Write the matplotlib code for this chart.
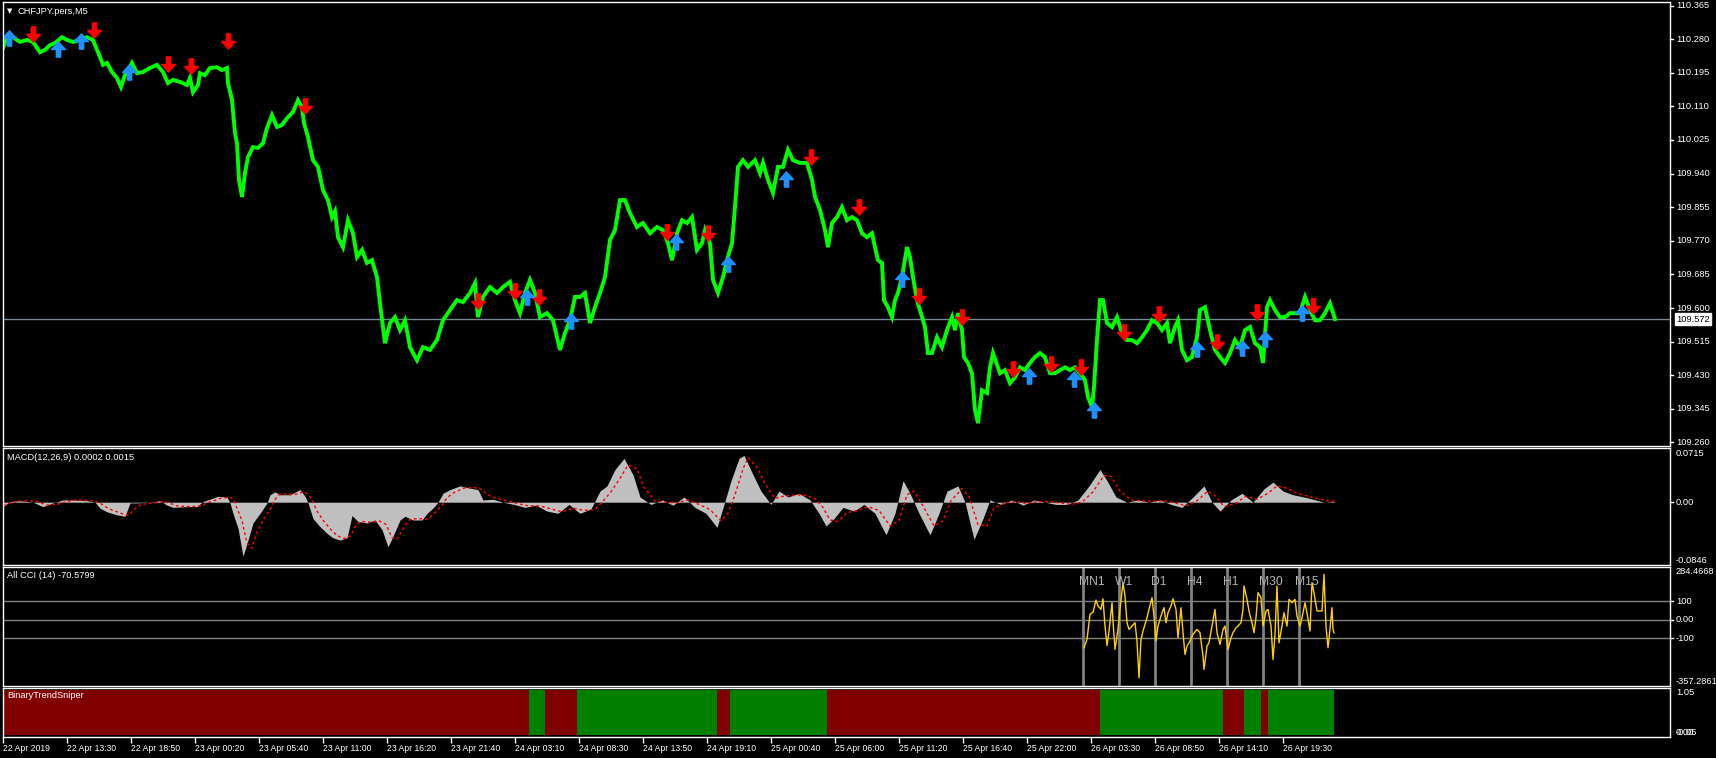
import matplotlib
matplotlib.use('Agg')
import matplotlib.pyplot as plt
import numpy as np

plt.rcParams['font.family'] = ['Liberation Sans', 'DejaVu Sans']

# ---------------- data ----------------
symbol_title = "CHFJPY.pers,M5"

price_bars = [0, 5, 10, 17, 24, 30, 37, 42, 47, 52, 59, 64, 70, 77, 84, 90, 94, 97, 100, 104,
              109, 114, 118, 122, 129, 134, 140, 147, 154, 160, 165, 170, 177, 184, 187, 190, 195, 197, 202, 207,
              214, 219, 224, 225, 229, 232, 234, 236, 239, 242, 245, 250, 255, 260, 264, 269, 274, 279, 284, 290,
              295, 299, 301, 305, 310, 315, 320, 325, 329, 332, 335, 340, 345, 350, 354, 359, 364, 369, 374, 377,
              382, 387, 392, 397, 402, 407, 414, 420, 427, 434, 440, 447, 454, 460, 467, 472, 475, 480, 487, 494,
              500, 507, 512, 517, 522, 527, 532, 537, 544, 550, 557, 562, 567, 572, 577, 582, 587, 592, 597, 602,
              607, 612, 617, 622, 627, 634, 640, 647, 654, 660, 665, 669, 674, 679, 684, 689, 694, 699, 702, 707,
              710, 715, 720, 724, 729, 732, 735, 740, 745, 752, 757, 760, 765, 770, 775, 780, 785, 790, 797, 804,
              809, 812, 817, 822, 825, 829, 834, 839, 844, 849, 854, 859, 864, 869, 872, 875, 879, 881, 885, 889,
              892, 895, 899, 904, 907, 910, 914, 919, 922, 925, 929, 934, 939, 944, 949, 952, 955, 959, 961, 965,
              969, 972, 975, 979, 984, 987, 990, 995, 997, 1002, 1007, 1012, 1017, 1022, 1027, 1032, 1037, 1042, 1047, 1052,
              1057, 1062, 1067, 1072, 1077, 1082, 1085, 1089, 1091, 1094, 1097, 1100, 1104, 1109, 1114, 1119, 1124, 1129, 1134, 1139,
              1144, 1149, 1154, 1159, 1164, 1167, 1172, 1175, 1179, 1184, 1189, 1194, 1197, 1202, 1207, 1212, 1217, 1222, 1227, 1232,
              1237, 1242, 1247, 1252, 1257, 1260, 1264, 1267, 1272, 1277, 1282, 1287, 1292, 1297, 1302, 1307, 1312, 1317, 1322, 1327, 1332]
price_vals = [110.258, 110.290, 110.285, 110.273, 110.278, 110.273, 110.247, 110.253, 110.265, 110.270,
              110.285, 110.278, 110.273, 110.278, 110.285, 110.278, 110.253, 110.235, 110.215, 110.220,
              110.197, 110.182, 110.159, 110.189, 110.220, 110.194, 110.197, 110.207, 110.215, 110.197,
              110.169, 110.177, 110.172, 110.164, 110.182, 110.146, 110.164, 110.194, 110.189, 110.207,
              110.209, 110.202, 110.207, 110.169, 110.126, 110.043, 110.017, 109.924, 109.881, 109.941,
              109.982, 110.007, 110.005, 110.017, 110.055, 110.088, 110.058, 110.063, 110.080, 110.096,
              110.126, 110.108, 110.068, 110.032, 109.974, 109.957, 109.898, 109.873, 109.830, 109.845,
              109.779, 109.754, 109.822, 109.789, 109.729, 109.747, 109.714, 109.721, 109.678, 109.612,
              109.511, 109.562, 109.577, 109.544, 109.569, 109.501, 109.468, 109.501, 109.494, 109.519,
              109.569, 109.595, 109.620, 109.615, 109.638, 109.663, 109.577, 109.628, 109.653, 109.638,
              109.653, 109.666, 109.620, 109.587, 109.638, 109.671, 109.638, 109.577, 109.587, 109.569,
              109.494, 109.537, 109.569, 109.628, 109.628, 109.638, 109.562, 109.602, 109.638, 109.678,
              109.772, 109.797, 109.873, 109.873, 109.840, 109.805, 109.815, 109.789, 109.805, 109.797,
              109.764, 109.721, 109.789, 109.822, 109.815, 109.830, 109.747, 109.764, 109.797, 109.764,
              109.671, 109.638, 109.678, 109.721, 109.764, 109.855, 109.957, 109.974, 109.957, 109.974,
              109.941, 109.967, 109.924, 109.891, 109.957, 109.957, 110.000, 109.974, 109.967, 109.967,
              109.924, 109.881, 109.848, 109.797, 109.754, 109.815, 109.830, 109.855, 109.822, 109.830,
              109.822, 109.789, 109.779, 109.789, 109.754, 109.721, 109.714, 109.620, 109.602, 109.577,
              109.620, 109.638, 109.678, 109.754, 109.729, 109.678, 109.620, 109.577, 109.552, 109.486,
              109.486, 109.526, 109.501, 109.544, 109.577, 109.544, 109.587, 109.544, 109.476, 109.461,
              109.435, 109.342, 109.309, 109.392, 109.385, 109.450, 109.486, 109.450, 109.435, 109.443,
              109.410, 109.425, 109.450, 109.443, 109.461, 109.476, 109.486, 109.476, 109.435, 109.435,
              109.443, 109.450, 109.443, 109.450, 109.435, 109.418, 109.375, 109.349, 109.400, 109.519,
              109.620, 109.620, 109.562, 109.552, 109.577, 109.537, 109.519, 109.519, 109.511, 109.526,
              109.544, 109.569, 109.562, 109.544, 109.562, 109.511, 109.552, 109.569, 109.494, 109.468,
              109.476, 109.526, 109.595, 109.602, 109.544, 109.494, 109.476, 109.461, 109.486, 109.519,
              109.501, 109.544, 109.552, 109.511, 109.501, 109.461, 109.602, 109.620, 109.595, 109.577,
              109.577, 109.587, 109.587, 109.587, 109.628, 109.595, 109.569, 109.569, 109.587, 109.612, 109.572]
last_price = 109.572

sell_bars = [30, 91, 165, 188, 225, 302, 475, 512, 536, 664, 705, 808, 856, 916, 959,
             1010, 1048, 1078, 1121, 1156, 1214, 1254, 1310]
sell_vals = [110.293, 110.303, 110.217, 110.212, 110.275, 110.111, 109.617, 109.643, 109.628, 109.792,
             109.789, 109.982, 109.855, 109.630, 109.577, 109.445, 109.458, 109.450, 109.539, 109.585,
             109.514, 109.590, 109.605]
buy_bars = [6, 55, 78, 126, 524, 568, 673, 725, 783, 899, 1026, 1071, 1091, 1194, 1239, 1262, 1299]
buy_vals = [110.283, 110.255, 110.275, 110.197, 109.628, 109.567, 109.767, 109.711, 109.926, 109.673,
            109.428, 109.420, 109.342, 109.496, 109.499, 109.521, 109.587]

price_ticks = [110.365, 110.280, 110.195, 110.110, 110.025, 109.940, 109.855, 109.770,
               109.685, 109.600, 109.515, 109.430, 109.345, 109.260]

macd_label = "MACD(12,26,9) 0.0002 0.0015"
macd_bars = [0, 7, 17, 30, 40, 50, 60, 70, 84, 92, 97, 104, 114, 122, 127, 134, 147, 157, 164, 170,
             184, 194, 200, 207, 215, 224, 227, 230, 235, 240, 245, 250, 257, 264, 267, 272, 277, 287, 297, 302,
             305, 310, 317, 324, 330, 337, 344, 349, 355, 364, 372, 379, 385, 390, 397, 402, 410, 419, 424, 430,
             435, 440, 447, 457, 467, 475, 480, 490, 500, 511, 522, 533, 544, 555, 566, 577, 588, 597, 604, 612,
             621, 630, 637, 648, 659, 670, 681, 692, 703, 714, 721, 728, 736, 741, 750, 758, 768, 776, 785, 796,
             807, 816, 823, 831, 840, 851, 861, 872, 883, 892, 900, 907, 916, 927, 936, 944, 955, 962, 971, 980,
             987, 998, 1009, 1020, 1031, 1042, 1053, 1064, 1075, 1086, 1097, 1104, 1113, 1124, 1135, 1146, 1157, 1168, 1179, 1190,
             1201, 1209, 1217, 1228, 1239, 1250, 1261, 1270, 1280, 1290, 1301, 1310, 1321, 1331]
macd_vals = [-0.006, 0.001, 0.002, 0.000, -0.006, -0.001, 0.003, 0.003, 0.002, 0.000, -0.008, -0.013, -0.017, -0.019, -0.001, -0.001, 0.000, 0.002, -0.004, -0.007,
             -0.006, -0.006, 0.001, 0.004, 0.008, 0.007, -0.001, -0.015, -0.035, -0.073, -0.051, -0.028, -0.015, -0.001, 0.010, 0.014, 0.010, 0.010, 0.017, 0.008,
             -0.001, -0.022, -0.033, -0.042, -0.048, -0.051, -0.048, -0.018, -0.026, -0.028, -0.024, -0.037, -0.060, -0.046, -0.024, -0.019, -0.024, -0.024, -0.015, -0.008,
             0.000, 0.012, 0.017, 0.022, 0.019, 0.017, 0.003, 0.004, 0.000, -0.003, -0.007, -0.004, -0.012, -0.015, -0.003, -0.015, -0.009, 0.015, 0.022, 0.044,
             0.059, 0.037, 0.007, -0.003, 0.003, -0.004, 0.007, -0.007, -0.015, -0.034, -0.003, 0.029, 0.059, 0.063, 0.037, 0.015, -0.003, 0.015, 0.007, 0.012,
             0.003, -0.015, -0.032, -0.022, -0.007, -0.012, -0.003, -0.015, -0.044, -0.015, 0.029, 0.012, -0.015, -0.044, -0.015, 0.015, 0.022, 0.000, -0.050, -0.022,
             0.003, -0.003, 0.003, -0.004, 0.003, 0.000, -0.003, -0.003, 0.003, 0.022, 0.044, 0.029, 0.007, 0.000, 0.003, 0.000, 0.003, -0.003, -0.007, 0.007,
             0.022, 0.000, -0.012, 0.003, 0.012, 0.000, 0.018, 0.027, 0.015, 0.010, 0.007, 0.004, 0.000, 0.001]
signal_bars = [0, 10, 20, 34, 44, 54, 64, 74, 88, 96, 101, 108, 118, 126, 131, 138, 151, 161, 168, 174,
               188, 198, 204, 211, 219, 228, 231, 234, 239, 244, 249, 254, 261, 268, 271, 276, 281, 291, 301, 306,
               309, 314, 321, 328, 334, 341, 348, 353, 359, 368, 376, 383, 389, 394, 401, 406, 414, 423, 428, 434,
               439, 444, 451, 461, 471, 479, 484, 494, 504, 515, 526, 537, 548, 559, 570, 581, 592, 601, 608, 616,
               625, 634, 641, 652, 663, 674, 685, 696, 707, 718, 725, 732, 740, 745, 754, 762, 772, 780, 789, 800,
               811, 820, 827, 835, 844, 855, 865, 876, 887, 896, 904, 911, 920, 931, 940, 948, 959, 966, 975, 984,
               991, 1002, 1013, 1024, 1035, 1046, 1057, 1068, 1079, 1090, 1101, 1108, 1117, 1128, 1139, 1150, 1161, 1172, 1183, 1194,
               1205, 1213, 1221, 1232, 1243, 1254, 1265, 1274, 1284, 1294, 1305, 1314, 1325, 1333]
signal_vals = [-0.004, 0.000, 0.002, 0.001, -0.004, -0.003, 0.001, 0.003, 0.002, 0.000, -0.005, -0.010, -0.015, -0.018, -0.010, -0.003, -0.001, 0.001, -0.002, -0.005,
               -0.006, -0.005, -0.001, 0.002, 0.006, 0.006, 0.002, -0.008, -0.025, -0.055, -0.062, -0.040, -0.022, -0.008, 0.002, 0.010, 0.011, 0.010, 0.014, 0.010,
               0.003, -0.012, -0.026, -0.037, -0.045, -0.049, -0.045, -0.030, -0.026, -0.027, -0.025, -0.030, -0.048, -0.050, -0.034, -0.024, -0.022, -0.023, -0.019, -0.012,
               -0.004, 0.006, 0.013, 0.019, 0.020, 0.017, 0.010, 0.005, 0.002, -0.002, -0.005, -0.005, -0.009, -0.013, -0.008, -0.011, -0.010, 0.003, 0.014, 0.030,
               0.050, 0.045, 0.020, 0.002, 0.000, -0.001, 0.003, -0.003, -0.010, -0.025, -0.015, 0.010, 0.045, 0.060, 0.047, 0.025, 0.005, 0.008, 0.009, 0.010,
               0.006, -0.007, -0.024, -0.026, -0.014, -0.011, -0.006, -0.011, -0.032, -0.025, 0.010, 0.015, -0.005, -0.032, -0.025, 0.002, 0.018, 0.008, -0.030, -0.032,
               -0.008, -0.001, 0.001, -0.002, 0.001, 0.001, -0.001, -0.003, 0.000, 0.014, 0.036, 0.035, 0.015, 0.003, 0.002, 0.001, 0.002, -0.001, -0.005, 0.002,
               0.015, 0.008, -0.006, -0.002, 0.008, 0.004, 0.012, 0.022, 0.019, 0.012, 0.008, 0.005, 0.002, 0.001]
macd_top, macd_bottom = 0.0715, -0.0846

cci_label = "All CCI (14) -70.5799"
cci_bars = [1081, 1084, 1087, 1090, 1093, 1095, 1098, 1100, 1102, 1104, 1106, 1109, 1110, 1112, 1115, 1117, 1120, 1122, 1124, 1126,
            1129, 1132, 1134, 1136, 1138, 1140, 1144, 1146, 1149, 1151, 1153, 1155, 1159, 1161, 1163, 1165, 1168, 1170, 1173, 1175,
            1178, 1180, 1182, 1184, 1187, 1190, 1194, 1197, 1200, 1201, 1204, 1206, 1209, 1212, 1214, 1217, 1220, 1222, 1225, 1228,
            1230, 1233, 1235, 1238, 1240, 1241, 1244, 1246, 1249, 1251, 1253, 1255, 1258, 1260, 1263, 1265, 1268, 1270, 1272, 1274,
            1276, 1279, 1281, 1284, 1286, 1289, 1292, 1294, 1297, 1299, 1302, 1304, 1307, 1309, 1311, 1314, 1316, 1319, 1321, 1323,
            1325, 1326, 1329, 1330, 1331]
cci_vals = [-151, -106, 29, 41, 106, 74, 56, 113, -34, -139, -61, 92, -7, -160, -52, 56, 200, 128, -16, -52,
            -34, -16, -115, -313, -106, -61, 11, 56, 119, 20, -115, -34, 38, 65, -16, 38, 74, 113, 56, -97,
            65, -70, -187, -142, -115, -79, -52, -70, -196, -268, -142, -124, -34, 56, -70, -133, -52, -34, -160, -97,
            -70, -43, -34, -16, 56, 182, 110, 47, -16, -70, 11, 146, 119, -34, 47, 56, -34, -214, -79, 182,
            -124, -34, 38, -34, 110, 92, 110, 20, -34, 11, 92, 38, -61, 200, 146, 47, 47, 47, 245, -34,
            -151, -106, 65, -52, -70.6]
cci_top, cci_bottom = 284.4668, -357.2861
cci_levels = [100, 0, -100]
tf_names = ['MN1', 'W1', 'D1', 'H4', 'H1', 'M30', 'M15']
tf_bars = [1080, 1116, 1152, 1188, 1224, 1260, 1296]

bts_label = "BinaryTrendSniper"
trend_starts = [0, 526, 542, 574, 714, 727, 824, 1097, 1220, 1241, 1258, 1265]
trend_ends = [526, 542, 574, 714, 727, 824, 1097, 1220, 1241, 1258, 1265, 1331]
trend_up = [0, 1, 0, 1, 0, 1, 0, 1, 0, 1, 0, 1]

time_tick_bars = [0, 64, 128, 192, 256, 320, 384, 448, 512, 576, 640, 704, 768, 832, 896, 960,
                  1024, 1088, 1152, 1216, 1280]
time_tick_labels = ['22 Apr 2019', '22 Apr 13:30', '22 Apr 18:50', '23 Apr 00:20', '23 Apr 05:40',
                    '23 Apr 11:00', '23 Apr 16:20', '23 Apr 21:40', '24 Apr 03:10', '24 Apr 08:30',
                    '24 Apr 13:50', '24 Apr 19:10', '25 Apr 00:40', '25 Apr 06:00', '25 Apr 11:20',
                    '25 Apr 16:40', '25 Apr 22:00', '26 Apr 03:30', '26 Apr 08:50', '26 Apr 14:10',
                    '26 Apr 19:30']

# ---------------- layout ----------------
W, H = 1716, 758
fig = plt.figure(figsize=(W / 100, H / 100), dpi=100, facecolor='black')
LEFT, RIGHT = 3, 1670
NBARS = RIGHT - LEFT
FS = 6.7
WHITE = 'white'


def add_panel(top, bottom):
    ax = fig.add_axes([LEFT / W, 1 - bottom / H, (RIGHT - LEFT) / W, (bottom - top) / H])
    ax.set_facecolor('black')
    for s in ax.spines.values():
        s.set_color(WHITE)
        s.set_linewidth(1)
    ax.set_xlim(0, NBARS)
    ax.set_xticks([])
    ax.set_yticks([])
    return ax


def rlabel(ax, val, txt, va='center', tick=True, **kw):
    tr = ax.get_yaxis_transform()
    ax.text(1 + 6 / NBARS, val, txt, transform=tr, ha='left', va=va, color=kw.pop('color', WHITE),
            fontsize=FS, clip_on=False, **kw)
    if tick:
        ax.plot([1, 1 + 3 / NBARS], [val, val], transform=tr, color=WHITE, lw=1, clip_on=False)


def fx(x):
    return x / W


def fy(y):
    return 1 - y / H


# main chart
ax = add_panel(2, 446)
ax.set_ylim(109.251, 110.374)
ax.axhline(last_price, color='#778899', lw=1)
ax.plot(price_bars, price_vals, color='#00FF00', lw=2.8, solid_joinstyle='miter')
down_arrow = [(-0.14, 0.5), (0.14, 0.5), (0.14, 0.0), (0.45, 0.0), (0.0, -0.5), (-0.45, 0.0), (-0.14, 0.0), (-0.14, 0.5)]
up_arrow = [(x, -y) for x, y in down_arrow]
ax.plot(sell_bars, sell_vals, ls='none', marker=down_arrow, ms=11, color='#FF0000', mec='#FF0000')
ax.plot(buy_bars, buy_vals, ls='none', marker=up_arrow, ms=11, color='#1E90FF', mec='#1E90FF')
for v in price_ticks:
    rlabel(ax, v, f"{v:.3f}")
rlabel(ax, last_price, f"{last_price:.3f}", tick=False, color='black',
       bbox=dict(facecolor='white', edgecolor='white', pad=0.8))
fig.text(fx(7), fy(11), '\u25BC', color=WHITE, fontsize=5, ha='left', va='center',
         family=['DejaVu Sans'])
fig.text(fx(18), fy(11), symbol_title, color=WHITE, fontsize=FS, ha='left', va='center')

# MACD
axm = add_panel(448, 565)
axm.set_ylim(-0.0846, 0.0730)
axm.fill_between(macd_bars, 0, macd_vals, color='#C0C0C0', lw=0)
axm.plot(signal_bars, signal_vals, color='#FF0000', lw=1, ls=(0, (2, 2)))
rlabel(axm, macd_top, f"{macd_top:.4f}", va='top', tick=False)
rlabel(axm, 0.0, "0.00")
rlabel(axm, macd_bottom, f"{macd_bottom:.4f}", va='bottom', tick=False)
fig.text(fx(7), fy(457), macd_label, color=WHITE, fontsize=FS, ha='left', va='center')

# CCI
axc = add_panel(567, 686)
axc.set_ylim(cci_bottom, cci_top)
for lv in cci_levels:
    axc.axhline(lv, color='#808080', lw=1)
for b, name in zip(tf_bars, tf_names):
    axc.axvline(b, ymin=0.02, ymax=1, color='#808080', lw=2)
    axc.text(b - 4, 0.875, name, transform=axc.get_xaxis_transform(), color='#B4B4B4',
             fontsize=8.7, ha='left', va='center')
axc.plot(cci_bars, cci_vals, color='#FFD000', lw=1)
rlabel(axc, cci_top, f"{cci_top:.4f}", va='top', tick=False)
rlabel(axc, 100, "100")
rlabel(axc, 0, "0.00")
rlabel(axc, -100, "-100")
rlabel(axc, cci_bottom, f"{cci_bottom:.4f}", va='bottom', tick=False)
fig.text(fx(7), fy(575), cci_label, color=WHITE, fontsize=FS, ha='left', va='center')

# Binary Trend Sniper
axb = add_panel(688, 737)
axb.set_ylim(-0.05, 1.05)
widths = [e - s for s, e in zip(trend_starts, trend_ends)]
colors = ['#008000' if u else '#800000' for u in trend_up]
axb.bar(trend_starts, [1.0] * len(trend_starts), width=widths, bottom=0, align='edge',
        color=colors, lw=0)
rlabel(axb, 1.05, "1.05", va='top', tick=False)
rlabel(axb, -0.05, "0.00", va='bottom', tick=False)
rlabel(axb, 0.05, "-0.05", va='center', tick=False)
fig.text(fx(7), fy(696), bts_label, color=WHITE, fontsize=FS, ha='left', va='center')

axb.set_xticks(time_tick_bars)
axb.set_xticklabels(time_tick_labels)
axb.tick_params(axis='x', direction='out', length=4, width=1, color=WHITE, labelcolor=WHITE,
                labelsize=6.2, pad=1)
for lab in axb.get_xticklabels():
    lab.set_ha('left')

fig.savefig('out.png', dpi=100, facecolor='black')
